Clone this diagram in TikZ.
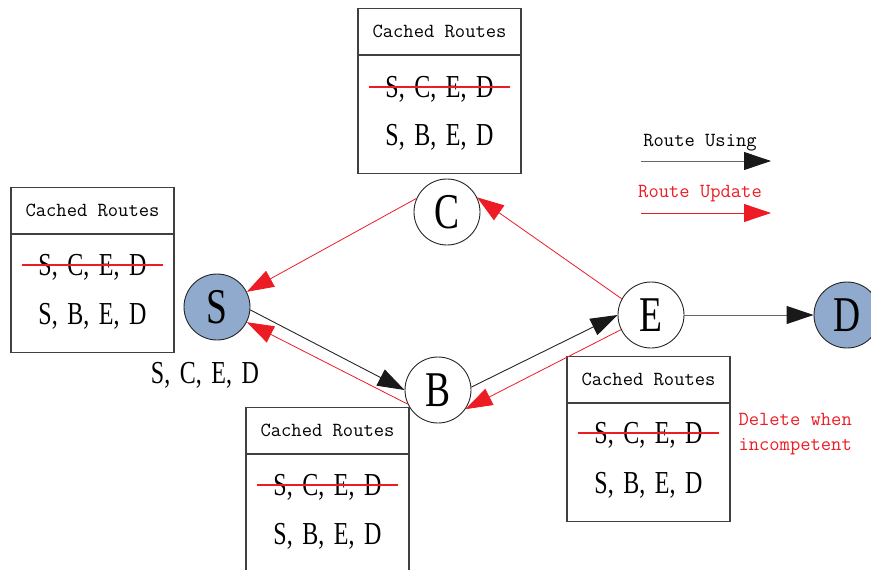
\documentclass[tikz,border=0pt]{standalone}
\usepackage{fontspec}
\newfontfamily\letterfont[FakeStretch=0.75,WordSpace=1.6]{Liberation Serif}
\usetikzlibrary{arrows.meta,positioning}
\definecolor{routered}{RGB}{237,28,36}
\definecolor{nodeblue}{RGB}{143,170,204}

\begin{document}
\begin{tikzpicture}[x=1pt, y=-1pt,
  stn/.style={circle, draw=black!85, line width=0.9pt, minimum size=66pt, inner sep=0pt,
              font=\letterfont\fontsize{50}{50}\selectfont},
  src/.style={stn, fill=nodeblue},
  head/.style={draw=black!75, line width=1.1pt, minimum width=163pt, minimum height=46pt,
               inner sep=0pt, anchor=north, font=\ttfamily\fontsize{20}{24}\selectfont},
  body/.style={draw=black!75, line width=1.1pt, minimum width=163pt, minimum height=118pt,
               inner sep=0pt, anchor=north},
  route/.style={inner xsep=16pt, inner ysep=0pt, text depth=0pt,
                font=\letterfont\fontsize{32}{32}\selectfont},
  strikeline/.style={color=routered, line width=1.2pt},
  use/.style={draw=black!85, line width=0.9pt, -{Triangle[length=27pt,width=18pt,color=black!90]}},
  upd/.style={draw=routered, line width=0.8pt, -{Triangle[length=27pt,width=18pt]}},
  note/.style={text depth=0pt, font=\ttfamily\fontsize{20}{25}\selectfont}
]
\useasboundingbox (0,0) rectangle (871,570);

% stations
\node[src] (S) at (217,307) {S};
\node[stn] (C) at (447,212) {C};
\node[stn] (B) at (438,390) {B};
\node[stn] (E) at (651,315) {E};
\node[src] (D) at (847,315) {D};

% cached route tables
\node[head] (sHead) at (92.5,187) {Cached Routes};
\node[body] (sBody) at (sHead.south) {};
\node[route] (sOld) at (92.5,265) {S, C, E, D};
\node[route] (sNew) at (92.5,314) {S, B, E, D};
\draw[strikeline] (sOld.west) -- (sOld.east);

\node[head] (cHead) at (439.5,8) {Cached Routes};
\node[body] (cBody) at (cHead.south) {};
\node[route] (cOld) at (439.5,87) {S, C, E, D};
\node[route] (cNew) at (439.5,135) {S, B, E, D};
\draw[strikeline] (cOld.west) -- (cOld.east);

\node[head] (bHead) at (327.5,407) {Cached Routes};
\node[body] (bBody) at (bHead.south) {};
\node[route] (bOld) at (327.5,485) {S, C, E, D};
\node[route] (bNew) at (327.5,534) {S, B, E, D};
\draw[strikeline] (bOld.west) -- (bOld.east);

\node[head] (eHead) at (648.5,356) {Cached Routes};
\node[body] (eBody) at (eHead.south) {};
\node[route] (eOld) at (648.5,433) {S, C, E, D};
\node[route] (eNew) at (648.5,483) {S, B, E, D};
\draw[strikeline] (eOld.west) -- (eOld.east);

\node[route] (sPath) at (205,373) {S, C, E, D};
\node[note, text=routered, align=left, anchor=west] (delNote) at (735,432) {Delete when\\incompetent};

% routes
\draw[upd] (C.156) -- (S.27);
\draw[upd] (E.151) -- (C.26);
\draw[use] (S.-5) -- (B.180);
\draw[upd] (B.205) -- (S.-27);
\draw[use] (B.5) -- (E.180);
\draw[upd] (E.206) -- (B.-35);
\draw[use, draw=black!60] (E) -- (D);

% legend
\node[note] (useLbl) at (700,140) {Route Using};
\coordinate (useA) at (641,161);
\coordinate (useB) at (771,161);
\draw[use, draw=black!60] (useA) -- (useB);
\node[note, text=routered] (updLbl) at (700,191) {Route Update};
\coordinate (updA) at (641,213);
\coordinate (updB) at (771,213);
\draw[upd] (updA) -- (updB);
\end{tikzpicture}
\end{document}
